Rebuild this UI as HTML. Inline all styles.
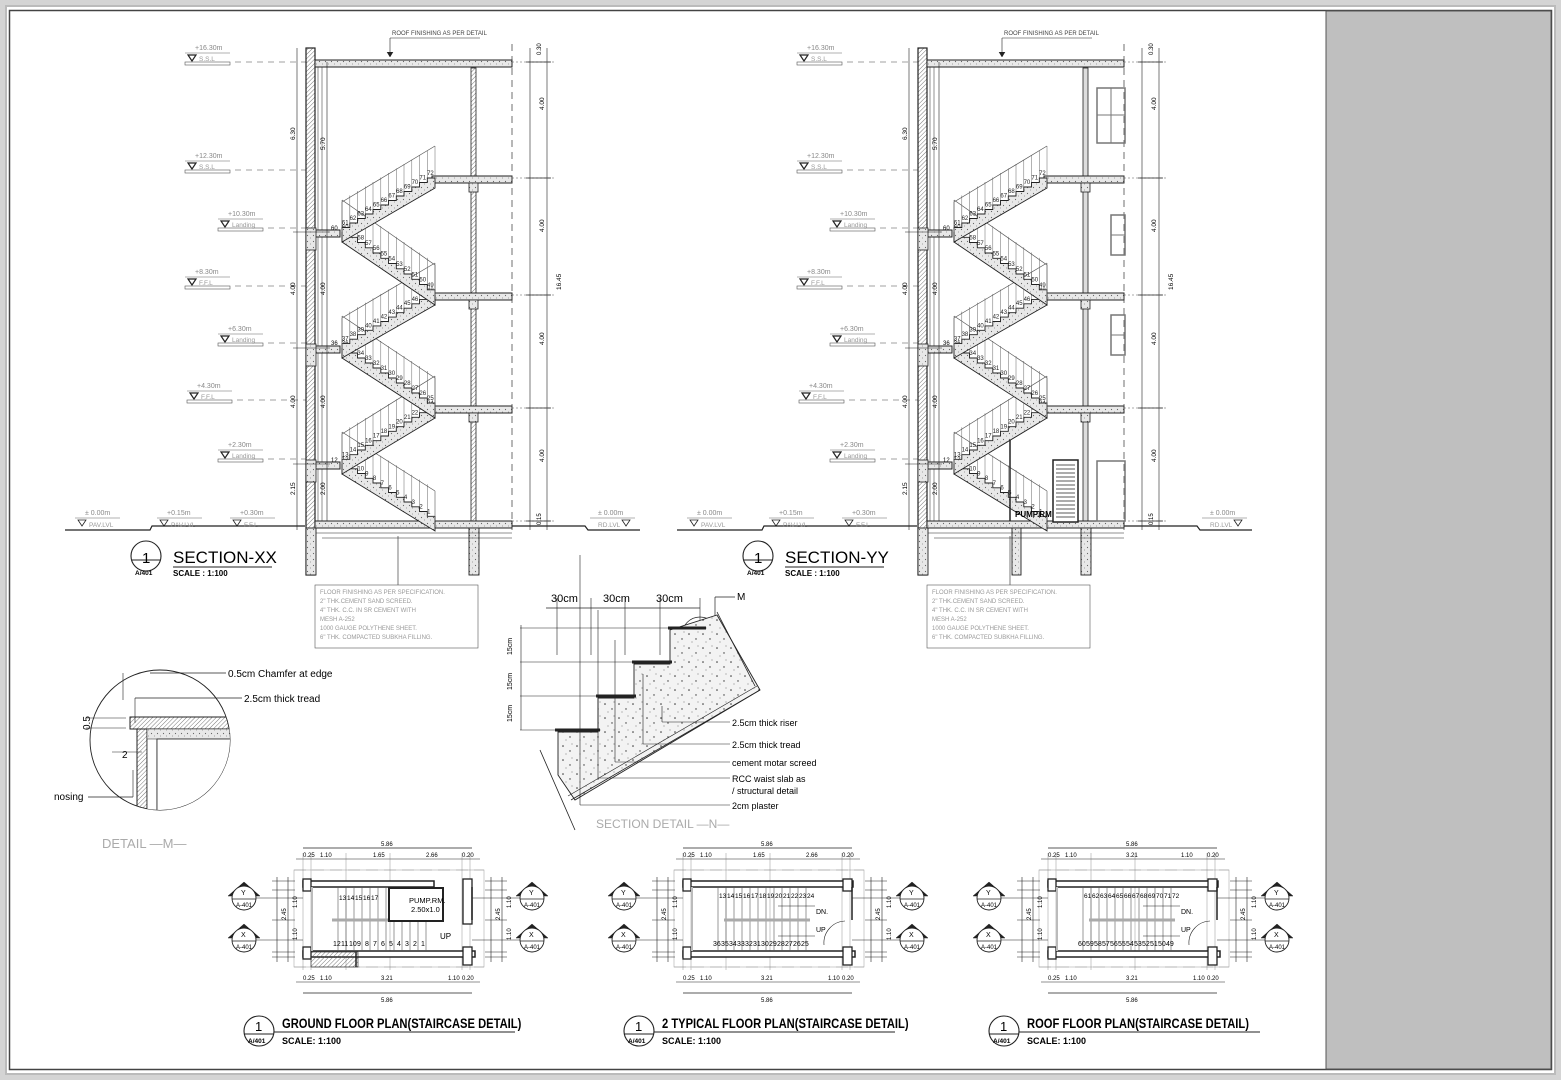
<!DOCTYPE html>
<html><head><meta charset="utf-8">
<style>
html,body{margin:0;padding:0;background:#d0d0d0;}
svg{display:block;}
text{font-family:"Liberation Sans",sans-serif;}
</style></head>
<body>
<svg id="s" width="1561" height="1080" viewBox="0 0 1561 1080" xmlns="http://www.w3.org/2000/svg">
<defs>
<pattern id="h" width="3" height="3" patternUnits="userSpaceOnUse" patternTransform="rotate(45)"><line x1="0" y1="0" x2="0" y2="3" stroke="#555" stroke-width="0.8"/></pattern>
<pattern id="d" width="6" height="6" patternUnits="userSpaceOnUse"><rect width="6" height="6" fill="#e8e8e8"/><circle cx="1.5" cy="1.5" r="0.6" fill="#666"/><circle cx="4.5" cy="4" r="0.5" fill="#888"/></pattern>
<pattern id="c" width="14" height="14" patternUnits="userSpaceOnUse"><rect width="14" height="14" fill="#f3f3f3"/><circle cx="3" cy="4" r="0.8" fill="#333"/><circle cx="10" cy="9" r="0.7" fill="#333"/><circle cx="6" cy="12" r="0.5" fill="#555"/><circle cx="12" cy="2" r="0.5" fill="#555"/></pattern>
</defs>
<rect x="0" y="0" width="1561" height="1080" fill="#d4d4d4"/>
<rect x="6" y="6" width="1549" height="1068" fill="#fff" stroke="#bbb" stroke-width="2"/>
<rect x="9.5" y="10.5" width="1542" height="1059" fill="#fff" stroke="#444" stroke-width="1.5"/>
<rect x="1326" y="11" width="225" height="1058" fill="#bfbfbf" stroke="#555" stroke-width="1"/>
<g id="g"></g>
</svg>
<script>
var o=[];
function L(x1,y1,x2,y2,w,c,da){o.push('<line x1="'+x1+'" y1="'+y1+'" x2="'+x2+'" y2="'+y2+'" stroke="'+(c||'#222')+'" stroke-width="'+(w||0.7)+'"'+(da?' stroke-dasharray="'+da+'"':'')+'/>');}
function R(x,y,w,h,f,sw,sc){o.push('<rect x="'+x+'" y="'+y+'" width="'+w+'" height="'+h+'" fill="'+(f||'none')+'" stroke="'+(sc||'#222')+'" stroke-width="'+(sw==null?0.8:sw)+'"/>');}
function T(x,y,s,t,extra){o.push('<text x="'+x+'" y="'+y+'" font-size="'+s+'" '+(extra||'')+'>'+t+'</text>');}
function P(d,f,sw,sc){o.push('<path d="'+d+'" fill="'+(f||'none')+'" stroke="'+(sc||'#222')+'" stroke-width="'+(sw||0.8)+'"/>');}
function C(x,y,r,sw){o.push('<circle cx="'+x+'" cy="'+y+'" r="'+r+'" fill="#fff" stroke="#222" stroke-width="'+(sw||1)+'"/>');}

function section(ox,name,yy){
 var lv=[521,464,408,348,295,232,178,62];
 // level markers
 var lab=[["+16.30m","S.S.L",62,185],["+12.30m","S.S.L",170,185],["+10.30m","Landing",228,218],["+8.30m","F.F.L",286,185],["+6.30m","Landing",343,218],["+4.30m","F.F.L",400,187],["+2.30m","Landing",459,218]];
 lab.forEach(function(a){var x=ox+a[3],y=a[2];
  T(x+10,y-12,7,a[0],'fill="#888"');L(x,y-9,x+45,y-9,0.6,'#666');
  P('M'+(x+3)+' '+(y-7)+' l8 0 l-4 6 z',"none",1.2);T(x+14,y-1,6.5,a[1],'fill="#999"');
  R(x,y,45,3,"none",0.6,"#555");L(x+50,y,ox+306,y,0.6,'#444','6 5');});
 // ground
 P('M'+(ox+65)+' 530 L'+(ox+150)+' 530 L'+(ox+152)+' 526 L'+(ox+305)+' 526',"none",1.2);
 [[ox+75,"± 0.00m","PAV.LVL"],[ox+157,"+0.15m","PAV.LVL"],[ox+230,"+0.30m","F.F.L"]].forEach(function(a){T(a[0]+10,515,7,a[1],'fill="#888"');L(a[0],518,a[0]+45,518,0.6,'#666');P('M'+(a[0]+3)+' 520 l8 0 l-4 6 z');T(a[0]+14,527,6.5,a[2],'fill="#999"');});
 P('M'+(ox+512)+' 526 L'+(ox+585)+' 526 L'+(ox+588)+' 530 L'+(ox+640)+' 530',"none",1.2);
 T(ox+598,515,7,"± 0.00m",'fill="#888"');L(ox+590,518,ox+635,518,0.6,'#666');P('M'+(ox+622)+' 520 l8 0 l-4 6 z');T(ox+598,527,6.5,"RD.LVL",'fill="#999"');
 // walls
 R(ox+306,48,9,527,"url(#h)",1);R(ox+306,48,9,527,"none",1.2);
 L(ox+318,66,ox+318,521,0.5);L(ox+322,66,ox+322,521,0.5);
 R(ox+471,68,5,457,yy?"#ddd":"url(#h)",0.8);
 // roof
 R(ox+315,60,197,7,"url(#d)",1);
 L(ox+390,38,ox+390,55,0.6);P('M'+(ox+387)+' 52 l3 5 l3-5',"#222",0.5);L(ox+390,38,ox+480,38,0.6);T(ox+392,35,6,"ROOF FINISHING AS PER DETAIL",'fill="#444"');
 // floor slabs
 [408,295,178].forEach(function(y){R(ox+432,y-2,80,7,"url(#d)",1);R(ox+469,y+5,9,9,"url(#d)",0.8);});
 [464,348,232].forEach(function(y){R(ox+315,y-2,25,7,"url(#d)",1);R(ox+306,y-4,10,22,"url(#d)",0.8);});
 R(ox+315,521,197,7,"url(#d)",1);
 // foundation
 [ox+306,ox+469].forEach(function(x){R(x,528,10,47,"url(#d)",0.9);});
 if(yy)R(ox+400,528,9,47,"url(#d)",0.9);
 L(ox+316,533,ox+512,533,0.6);L(ox+322,538,ox+512,538,0.6);
 // dashed right
 L(ox+512,44,ox+512,530,0.7,'#333','7 5');
 // dims right
 L(ox+530,48,ox+530,530,0.6);L(ox+547,48,ox+547,530,0.6);
 lv.forEach(function(y,i){if(i%2==0||i==7){L(ox+512,y,ox+555,y,0.5,'#555','2 2');L(ox+526,y,ox+551,y,0.8);}});
 [[110,"4.00"],[232,"4.00"],[345,"4.00"],[462,"4.00"]].forEach(function(a){T(ox+544,a[0],6.5,a[1],'transform="rotate(-90 '+(ox+544)+' '+a[0]+')"');});
 T(ox+561,290,6.5,"16.45",'transform="rotate(-90 '+(ox+561)+' 290)"');
 T(ox+541,55,6,"0.30",'transform="rotate(-90 '+(ox+541)+' 55)"');T(ox+541,525,6,"0.15",'transform="rotate(-90 '+(ox+541)+' 525)"');
 // dims left
 L(ox+297,48,ox+297,530,0.6);L(ox+327,62,ox+327,521,0.6);
 [[140,"6.30",ox+295],[295,"4.00",ox+295],[408,"4.00",ox+295],[495,"2.15",ox+295],[150,"5.70",ox+325],[295,"4.00",ox+325],[408,"4.00",ox+325],[495,"2.00",ox+325]].forEach(function(a){T(a[2],a[0],6.5,a[1],'transform="rotate(-90 '+a[2]+' '+a[0]+')"');});
 [232,348,464].forEach(function(y){L(ox+293,y,ox+330,y,0.6);});
 // stairs
 var n=1;
 for(var k=0;k<6;k++){
  var yb=lv[k],yt=lv[k+1],xR=ox+435,xL=ox+342,steps=12;
  var d='',rail='',x0,x1;
  var dir=(k%2==0)?-1:1; var xs=(k%2==0)?xR:xL;
  var dx=(xR-xL)/steps*dir, dy=(yt-yb)/steps;
  var px=xs,py=yb; d='M'+px+' '+py;
  for(var s=0;s<steps;s++){py+=dy;d+=' L'+px.toFixed(1)+' '+py.toFixed(1);px+=dx;d+=' L'+px.toFixed(1)+' '+py.toFixed(1);
   L(px.toFixed(1),py.toFixed(1),px.toFixed(1),(py-32).toFixed(1),0.5,'#666');
   var num=(k%2==0)? (k*12+s+1):(k*12+s+1);
   T((px-dx/2-4).toFixed(1),(py-3).toFixed(1),6,num,'fill="#222"');}
  // waist
  var bx=xs, by=yb+10, ex=px, ey=py+10;
  P(d+' L'+(ex+(dir>0?0:0))+' '+ey+' L'+bx+' '+by+' Z',"url(#d)",0.9);
  L(xs,yb-30,px,py-32,0.7,'#555');L(xs,yb,xs,yb-30,0.6,'#555');
 }
 T(ox+331,462,6,"12");T(ox+331,345,6,"36");T(ox+331,230,6,"60");
 // title
 C(ox+146,556,15,1.1);L(ox+131,560,ox+161,560,0.9);T(ox+142,563,15,"1");T(ox+135,575,6.5,"A/401",'font-weight="bold"');
 T(ox+173,563,17,name);L(ox+173,567,ox+272,567,1);T(ox+173,576,8,"SCALE : 1:100",'font-weight="bold"');
 // note box
 L(ox+398,536,ox+398,585,0.6);R(ox+315,585,163,63,"#fff",0.6,"#555");
 ["FLOOR FINISHING AS PER SPECIFICATION.","2\" THK.CEMENT SAND SCREED.","4\" THK. C.C. IN SR CEMENT WITH","MESH A-252","1000 GAUGE POLYTHENE SHEET.","6\" THK. COMPACTED SUBKHA FILLING."].forEach(function(t,i){T(ox+320,594+i*9,6,t,'fill="#999"');});
}
section(0,"SECTION-XX",false);
section(612,"SECTION-YY",true);
// YY extras windows, door, pump room
R(1097,88,28,55,"none",1.5,"#777");L(1097,115,1125,115,1,"#777");L(1111,88,1111,143,1,"#777");
[215,315].forEach(function(y){R(1111,y,14,40,"none",1.5,"#777");L(1111,y+20,1125,y+20,1,"#777");});
R(1097,461,28,60,"none",1.5,"#777");
R(1053,460,25,62,"#fff",1.5);for(var i=0;i<14;i++)L(1056,465+i*4,1075,465+i*4,0.7);
T(1015,517,8,"PUMP.RM",'font-weight="bold"');L(1010,440,1010,521,1.5);

// Detail M
o.push('<clipPath id="cm"><circle cx="160" cy="740" r="70"/></clipPath>');
C(160,740,70,0.9);
o.push('<g clip-path="url(#cm)">');
R(130,717,100,12,"url(#h)",1);R(137,729,10,90,"url(#h)",1);R(147,729,10,90,"#fff",0.8);R(147,729,90,10,"url(#d)",0.5);R(157,739,80,80,"#fff",0.8);
o.push('</g>');
T(228,677,10,"0.5cm Chamfer at edge");L(150,673,226,673,0.7);L(123,673,123,700,0.6);
T(244,702,10,"2.5cm thick tread");L(135,698,242,698,0.7);L(135,698,135,723,0.6);
T(54,800,10,"nosing");L(88,797,133,797,0.7);L(133,770,133,797,0.6);
T(90,730,10,"0.5",'transform="rotate(-90 90 730)"');T(122,758,10,"2");
L(86,718,126,718,0.6);L(86,728,126,728,0.6);L(112,752,142,752,0.6);
T(102,848,13,"DETAIL   —M—",'fill="#aaa"');

// Section detail N
T(551,602,11,"30cm");T(603,602,11,"30cm");T(656,602,11,"30cm");
L(546,608,700,608,0.7);[557,591,625,660,700].forEach(function(x){L(x,598,x,655,0.6);});
T(737,600,10,"M");L(715,597,735,597,0.7);L(715,597,715,617,0.7);
o.push('<circle cx="700" cy="635" r="18" fill="none" stroke="#222" stroke-width="0.7"/>');
[[630,665],[660,578],[695,545]].forEach(function(a,i){});
L(520,628,680,628,0.6);L(520,662,640,662,0.6);L(520,696,600,696,0.6);L(520,730,560,730,0.6);L(521,625,521,730,0.6);
T(512,655,7,"15cm",'transform="rotate(-90 512 655)"');T(512,690,7,"15cm",'transform="rotate(-90 512 690)"');T(512,722,7,"15cm",'transform="rotate(-90 512 722)"');
P('M558 775 L558 732 L598 732 L598 698 L634 698 L634 664 L670 664 L670 630 L717 615 L760 690 L575 800 Z',"url(#c)",0.9);
P('M555 730 L600 730 M596 696 L636 696 M632 662 L672 662 M668 628 L706 628',"none",3);
L(540,750,575,830,0.8);L(717,612,755,686,0.8);L(571,800,760,690,0.8);L(568,796,757,686,0.6);
[[722,"2.5cm thick riser",662,706],[744,"2.5cm thick tread",643,674],[762,"cement motar screed",615,640],[778,"RCC waist slab as",598,610],[790,"/ structural detail",0,0],[805,"2cm  plaster",580,555]].forEach(function(a){T(732,a[0]+4,9,a[1]);if(a[2]){L(a[2],a[0],730,a[0],0.6);L(a[2],a[0],a[2],a[3],0.6);}});
T(596,828,12,"SECTION  DETAIL   —N—",'fill="#aaa"');

// Plans
function plan(ox,title,top,bot,kind){
 var X=function(v){return v+ox;};
 R(X(294),870,190,97,"none",0.6,"#aaa");L(X(294),870,X(484),870,0.6,'#999','12 6');L(X(294),967,X(484),967,0.6,'#999','12 6');
 // dims top
 L(X(303),848,X(472),848,0.7);T(X(381),846,6,"5.86");
 L(X(296),859,X(480),859,0.6);
 var tl=kind==0?[["0.25",303],["1.10",320],["1.65",373],["2.66",426],["0.20",462]]:kind==1?[["0.25",303],["1.10",320],["1.65",373],["2.66",426],["0.20",462]]:[["0.25",303],["1.10",320],["3.21",381],["1.10",436],["0.20",462]];
 tl.forEach(function(a){T(X(a[1]),857,6,a[0]);});
 [303,311,346,390,462,470].forEach(function(x){L(X(x),853,X(x),970,0.4,'#777');});
 // bottom dims
 L(X(296),982,X(480),982,0.6);L(X(303),993,X(472),993,0.7);T(X(381),1002,6,"5.86");
 [["0.25",303],["1.10",320],["3.21",381],["1.10",448],["0.20",462]].forEach(function(a){T(X(a[1]),980,6,a[0]);});
 // side dims
 [[277],[288],[491],[502]].forEach(function(a){L(X(a[0]),877,X(a[0]),962,0.6);});
 [881,890,920,952,957].forEach(function(y){L(X(272),y,X(295),y,0.5);L(X(485),y,X(507),y,0.5);});
 T(X(286),920,6,"2.45",'transform="rotate(-90 '+X(286)+' 920)"');T(X(500),920,6,"2.45",'transform="rotate(-90 '+X(500)+' 920)"');
 T(X(297),908,6,"1.10",'transform="rotate(-90 '+X(297)+' 908)"');T(X(297),940,6,"1.10",'transform="rotate(-90 '+X(297)+' 940)"');
 T(X(511),908,6,"1.10",'transform="rotate(-90 '+X(511)+' 908)"');T(X(511),940,6,"1.10",'transform="rotate(-90 '+X(511)+' 940)"');
 // walls
 R(X(303),881,kind==0?131:170,6,"#fff",1.5);R(X(303),951,172,6,"#fff",1.5);
 R(X(303),879,8,12,"#fff",1.3);R(X(303),947,8,12,"#fff",1.3);
 R(X(463),879,9,kind==0?45:12,"#fff",1.3);R(X(463),947,9,18,"#fff",1.3);
 L(X(472),887,X(472),920,1.5);
 L(X(312),887,X(312),951,2,'#bbb');
 // steps
 for(var i=0;i<12;i++){var x=X(338+i*8);L(x,887,x,951,0.6,'#555');}
 if(kind!=0)L(X(344),920,X(430),920,3,'#aaa');else L(X(332),920,X(388),920,3,'#aaa');
 top.forEach(function(t,i){T(X(338+i*8+1),kind==0?900:898,6.5,t);});
 bot.forEach(function(t,i){T(X(332+i*8+1),946,7,t);});
 if(kind==0){R(X(389),888,54,33,"#fff",2);T(X(409),903,7.5,"PUMP.RM.");T(X(411),912,7.5,"2.50x1.0");T(X(440),939,8,"UP");R(X(311),952,47,15,"url(#h)",0.6);L(X(356),952,X(356),967,1.5);}
 else{T(X(436),914,7,"DN.");T(X(436),932,7,"UP");P('M'+X(465)+' 921 A22 22 0 0 0 '+X(444)+' 945',"none",0.6);L(X(398),906,X(435),906,0.6);L(X(398),936,X(435),936,0.6);}
 // tags
 [[244,898,"Y"],[244,940,"X"],[532,898,"Y"],[532,940,"X"]].forEach(function(a){var cx=X(a[0]);P('M'+(cx-16)+' '+(a[1]-2)+' L'+cx+' '+(a[1]-16)+' L'+(cx+16)+' '+(a[1]-2)+' Z',"#222",0.5);C(cx,a[1],12,0.9);L(cx-12,a[1]+1,cx+12,a[1]+1,0.7);T(cx-3,a[1]-3,7,a[2]);T(cx-8,a[1]+9,6,"A-401");
  L(a[0]<300?cx+12:cx-12,a[1],a[0]<300?X(303):X(472),a[1],0.5);});
 // title
 C(X(259),1031,15,1.1);L(X(244),1034,X(274),1034,0.9);T(X(255),1031,13,"1");T(X(248),1043,6.5,"A/401",'font-weight="bold"');
 T(X(282),1028,14,title,'font-weight="bold" transform="translate('+X(282)+' 0) scale(0.8 1) translate('+(-X(282))+' 0)"');L(X(274),1032,X(515),1032,1);
 T(X(282),1044,9,"SCALE:    1:100",'font-weight="bold"');
}
plan(0,"GROUND FLOOR PLAN(STAIRCASE DETAIL)",["13","14","15","16","17"],["12","11","10","9","8","7","6","5","4","3","2","1"],0);
plan(380,"2 TYPICAL FLOOR PLAN(STAIRCASE DETAIL)",["13","14","15","16","17","18","19","20","21","22","23","24"],["36","35","34","33","32","31","30","29","28","27","26","25"],1);
plan(745,"ROOF FLOOR PLAN(STAIRCASE DETAIL)",["61","62","63","64","65","66","67","68","69","70","71","72"],["60","59","58","57","56","55","54","53","52","51","50","49"],2);
document.getElementById('g').innerHTML=o.join('');
</script>
</body></html>
